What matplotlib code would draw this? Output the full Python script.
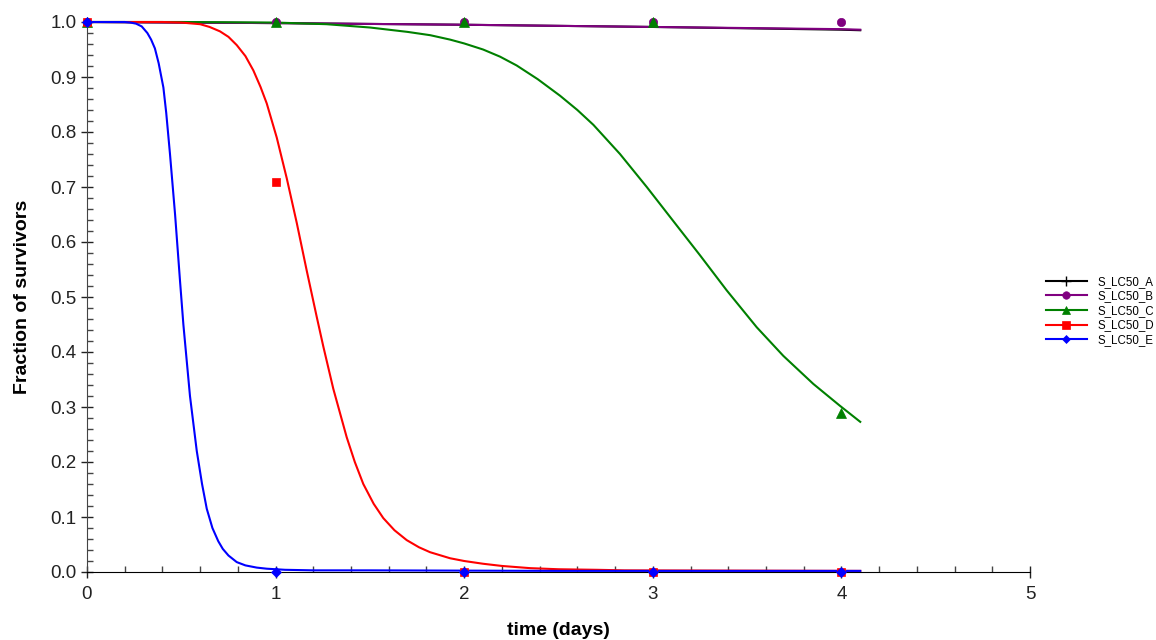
import numpy as np
import matplotlib
matplotlib.use("Agg")
import matplotlib.pyplot as plt
from matplotlib.legend_handler import HandlerLine2D
from matplotlib.lines import Line2D

plt.rcParams["font.family"] = ["Liberation Sans", "DejaVu Sans"]

# Courbes ajustées
t_A = [0, 1, 2, 3, 4, 4.1]
f_A = [1.0, 0.998, 0.995, 0.991, 0.986, 0.985]

t_B = [0, 1, 2, 3, 4, 4.1]
f_B = [1.0, 0.998, 0.995, 0.991, 0.987, 0.986]

t_C = [0, 0.5, 1.0, 1.27, 1.5, 1.7, 1.82, 1.925, 2.0, 2.10, 2.19, 2.278, 2.39,
       2.508, 2.6, 2.685, 2.826, 2.968, 3.127, 3.25, 3.392, 3.551, 3.692,
       3.851, 3.993, 4.1]
f_C = [1.0, 1.0, 0.999, 0.996, 0.990, 0.982, 0.976, 0.968, 0.961, 0.950,
       0.937, 0.921, 0.896, 0.866, 0.840, 0.813, 0.760, 0.700, 0.630, 0.576,
       0.512, 0.445, 0.393, 0.342, 0.302, 0.273]

t_D = [0, 0.4, 0.5, 0.6, 0.65, 0.705, 0.75, 0.794, 0.84, 0.882, 0.92, 0.953,
       1.006, 1.059, 1.112, 1.165, 1.218, 1.253, 1.306, 1.377, 1.42, 1.465,
       1.52, 1.571, 1.63, 1.695, 1.76, 1.819, 1.925, 2.0, 2.1, 2.2, 2.35, 2.5,
       2.7, 2.85, 4.1]
f_D = [1.0, 1.0, 0.999, 0.996, 0.991, 0.983, 0.973, 0.958, 0.938, 0.912,
       0.882, 0.852, 0.790, 0.716, 0.635, 0.548, 0.464, 0.410, 0.333, 0.245,
       0.200, 0.160, 0.124, 0.098, 0.076, 0.058, 0.045, 0.036, 0.025, 0.020,
       0.015, 0.011, 0.007, 0.005, 0.004, 0.003, 0.002]

t_E = [0, 0.2, 0.23, 0.26, 0.29, 0.32, 0.34, 0.36, 0.38, 0.405, 0.42, 0.44,
       0.467, 0.493, 0.511, 0.546, 0.582, 0.61, 0.635, 0.665, 0.696, 0.72,
       0.75, 0.794, 0.84, 0.9, 0.953, 1.05, 1.2, 1.5, 2.5, 4.1]
f_E = [1.0, 1.0, 0.999, 0.997, 0.992, 0.980, 0.968, 0.952, 0.925, 0.881,
       0.835, 0.760, 0.650, 0.530, 0.450, 0.320, 0.220, 0.160, 0.115, 0.080,
       0.056, 0.042, 0.030, 0.018, 0.012, 0.008, 0.006, 0.004, 0.003, 0.003,
       0.002, 0.002]

# Observations
t_obs = [0, 1, 2, 3, 4]
obs_A = [1, 1, 1, 1, 1]
obs_B = [1, 1, 1, 1, 1]
obs_C = [1, 1, 1, 1, 0.29]
obs_D = [1, 0.71, 0, 0, 0]
obs_E = [1, 0, 0, 0, 0]

labels = ["S_LC50_A", "S_LC50_B", "S_LC50_C", "S_LC50_D", "S_LC50_E"]
colors = ["black", "#800080", "#008000", "#ff0000", "#0000ff"]
markers = ["+", "o", "^", "s", "D"]
msizes = [5, 6, 6.5, 6, 5]

curves = [(t_A, f_A), (t_B, f_B), (t_C, f_C), (t_D, f_D), (t_E, f_E)]
observations = [obs_A, obs_B, obs_C, obs_D, obs_E]


class EndMarkerHandler(HandlerLine2D):
    # marqueur au bout du trait, comme dans la légende d'origine
    def get_xdata(self, legend, xdescent, ydescent, width, height, fontsize):
        xdata = np.array([-xdescent, -xdescent + width * 0.82])
        return xdata, np.array([-xdescent + width * 0.94])


fig = plt.figure(figsize=(11.56, 6.4), dpi=100)
ax = fig.add_axes([87 / 1156, 1 - 572 / 640, (1030 - 87) / 1156, (572 - 22) / 640])

handles = []
for i, ((t, f), obs, lab, col, mk, ms) in enumerate(
        zip(curves, observations, labels, colors, markers, msizes)):
    ax.plot(t, f, color=col, lw=1.5, clip_on=False, zorder=2 + i)
    # les "+" de A restent cachés sous les autres marqueurs
    ax.plot(t_obs, obs, linestyle="none", marker=mk, color=col, ms=ms,
            mew=1.0 if mk == "+" else 0.5, clip_on=False,
            zorder=1 if mk == "+" else 10 + i)
    handles.append(Line2D([], [], color=col, lw=1.5, marker=mk,
                          ms=7 if mk == "+" else ms * 0.9,
                          mew=1.0 if mk == "+" else 0.5, label=lab))

ax.set_xlim(0, 5)
ax.set_ylim(0, 1)
ax.set_xticks(np.arange(0, 6, 1))
ax.set_xticks(np.arange(0, 5.01, 0.2), minor=True)
ax.set_yticks(np.arange(0, 1.01, 0.1))
ax.set_yticks(np.arange(0, 1.001, 0.02), minor=True)
ax.set_yticklabels([f"{v:.1f}" for v in np.arange(0, 1.01, 0.1)])

for s in ["top", "right"]:
    ax.spines[s].set_visible(False)
ax.spines["left"].set_color("#444444")

ax.tick_params(which="major", direction="inout", length=8, width=1,
               labelsize=13.5, colors="#222222")
ax.tick_params(which="minor", direction="in", length=4, width=1, colors="#444444")
ax.tick_params(axis="x", pad=6)

ax.set_xlabel("time (days)", fontsize=14, fontweight="bold", labelpad=14)
ax.set_ylabel("Fraction of survivors", fontsize=14, fontweight="bold", labelpad=14)

fig.legend(handles=handles, loc="center left",
           bbox_to_anchor=(1040 / 1156, 1 - 311 / 640),
           frameon=False, fontsize=8.3, handlelength=4.35, handletextpad=0.1,
           labelspacing=0.22, borderpad=0,
           handler_map={Line2D: EndMarkerHandler(numpoints=1)})

plt.savefig("out.png", dpi=100)
plt.close()
